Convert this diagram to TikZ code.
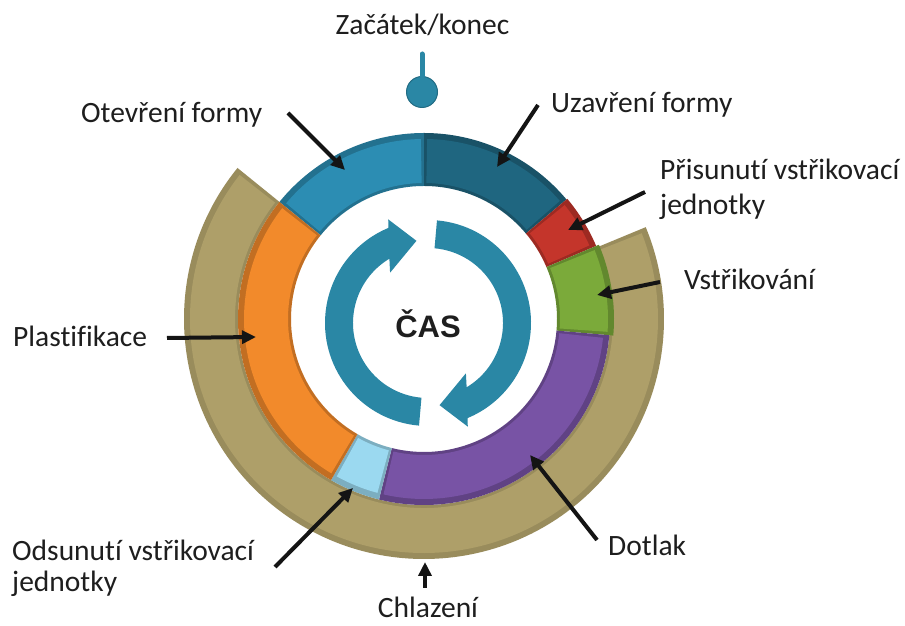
\documentclass[tikz,border=0pt]{standalone}
\usepackage{fontspec}
\setmainfont{Carlito}[Ligatures=NoCommon]
\newfontfamily\casfont{Liberation Sans}
\usetikzlibrary{arrows.meta}

\definecolor{txt}{HTML}{1E1E1E}
\definecolor{segOpen}{HTML}{2C8DB3}
\definecolor{segClose}{HTML}{1F6680}
\definecolor{segMove}{HTML}{C4352B}
\definecolor{segInject}{HTML}{7BAA3A}
\definecolor{segHold}{HTML}{7853A5}
\definecolor{segBack}{HTML}{9BD9F0}
\definecolor{segPlast}{HTML}{F28A2B}
\definecolor{segCool}{HTML}{AE9F69}
\definecolor{cycleBlue}{HTML}{2A87A5}

% annular sector with a darker rim: start angle, end angle, inner r, outer r, colour, rim shade
\newcommand\ringseg[6]{%
  \pgfmathsetmacro\ringA{#1+1.0}%
  \pgfmathsetmacro\ringB{#2-1.0}%
  \pgfmathsetmacro\ringR{#3+3}%
  \pgfmathsetmacro\ringS{#4-6}%
  \fill[#5!#6!black] (#1:#4) arc[start angle=#1,end angle=#2,radius=#4]
    -- (#2:#3) arc[start angle=#2,end angle=#1,radius=#3] -- cycle;
  \fill[#5] (\ringA:\ringS) arc[start angle=\ringA,end angle=\ringB,radius=\ringS]
    -- (\ringB:\ringR) arc[start angle=\ringB,end angle=\ringA,radius=\ringR] -- cycle;
}

\begin{document}
\begin{tikzpicture}[x=1pt,y=1pt,
  label/.style={font=\fontsize{29.5}{35}\selectfont, text=txt, inner sep=0pt, anchor=base west},
  pointer/.style={draw=black!92, line width=4pt, -{Triangle[length=14pt,width=13pt]}}]
\useasboundingbox (0,0) rectangle (905,626);
\fill[white] (0,0) rectangle (905,626);

% phase rings
\begin{scope}[shift={(424,307)}]
  \ringseg{141}{382.5}{186}{240}{segCool}{88}
  \ringseg{90}{141}{133}{186}{segOpen}{80}
  \ringseg{40}{90}{133}{186}{segClose}{80}
  \ringseg{23}{40}{133}{187}{segMove}{80}
  \ringseg{-5}{23}{133}{190}{segInject}{80}
  \ringseg{-104}{-5}{133}{186}{segHold}{80}
  \ringseg{-120}{-104}{133}{186}{segBack}{80}
  \ringseg{141}{240}{133}{186}{segPlast}{80}
\end{scope}

% two circular arrows around the centre
\begin{scope}[shift={(428,303)}]
  \foreach \turn in {0,180}{
    \fill[cycleBlue, rotate=\turn] (265:103) arc[start angle=265,end angle=112.6,radius=103]
      -- (111:111) -- (98:83) -- (127:63) -- (121:75)
      arc[start angle=121,end angle=265,radius=75] -- cycle;
  }
\end{scope}
\node[font=\casfont\bfseries\fontsize{31}{31}\selectfont, text=txt, anchor=base, inner sep=0pt] (cas) at (428,288) {ČAS};

% start / end marker
\node[circle, fill=cycleBlue, draw=cycleBlue!80!black, line width=1pt, minimum size=31pt, inner sep=0pt] (start) at (422,534) {};
\coordinate (stemTop) at (422,572);
\draw[cycleBlue, line width=5pt, line cap=round] (start.north) -- (stemTop);

% labels
\node[label, anchor=base] (zac) at (422.5,591) {Začátek/konec};
\node[label] (otev) at (81,503) {Otevření formy};
\node[label] (uzav) at (551,513) {Uzavření formy};
\node[label] (pris1) at (660,446) {Přisunutí vstřikovací};
\node[label] (pris2) at (660,411) {jednotky};
\node[label] (vstr) at (684,336) {Vstřikování};
\node[label] (plast) at (13,279) {Plastifikace};
\node[label] (ods1) at (12,65) {Odsunutí vstřikovací};
\node[label] (ods2) at (12,34) {jednotky};
\node[label] (dotl) at (608,70) {Dotlak};
\node[label, anchor=base] (chl) at (428,8) {Chlazení};

% pointer arrows
\coordinate (otevT) at (288,513);  \coordinate (otevH) at (345,456);
\coordinate (uzavT) at (538,521);  \coordinate (uzavH) at (497,459);
\coordinate (prisT) at (645,434);  \coordinate (prisH) at (568,396);
\coordinate (vstrT) at (660,344);  \coordinate (vstrH) at (597,331);
\coordinate (plastT) at (167,288); \coordinate (plastH) at (256,289);
\coordinate (odsT) at (275,59);    \coordinate (odsH) at (353,138);
\coordinate (dotlT) at (597,86);   \coordinate (dotlH) at (530,171);
\coordinate (chlT) at (425,38);    \coordinate (chlH) at (425,64);
\draw[pointer] (otevT) -- (otevH);
\draw[pointer] (uzavT) -- (uzavH);
\draw[pointer] (prisT) -- (prisH);
\draw[pointer] (vstrT) -- (vstrH);
\draw[pointer] (plastT) -- (plastH);
\draw[pointer] (odsT) -- (odsH);
\draw[pointer] (dotlT) -- (dotlH);
\draw[pointer] (chlT) -- (chlH);
\end{tikzpicture}
\end{document}
